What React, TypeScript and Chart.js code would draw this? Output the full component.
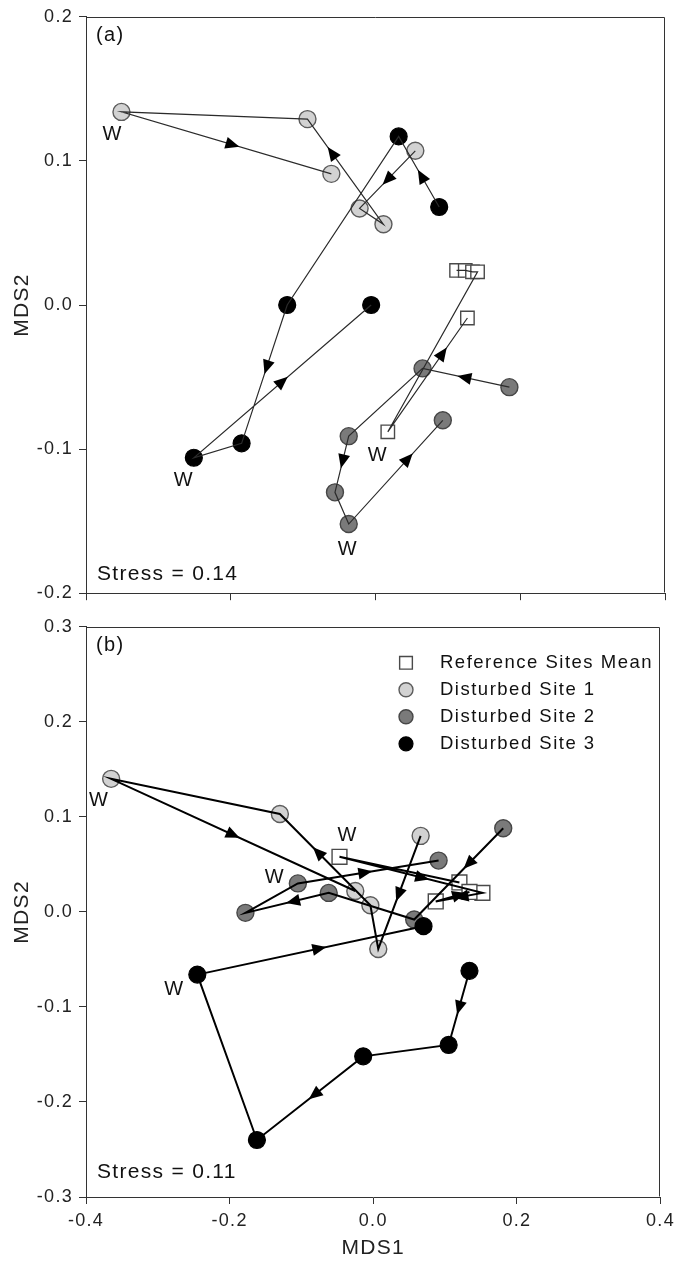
import React, { useEffect, useRef } from 'react';
import { Chart, registerables } from 'chart.js';

Chart.register(...registerables);

const FONT = '"Liberation Sans", Arial, Helvetica, sans-serif';

// Axis tick values
const xTicks = [-0.4, -0.2, 0.0, 0.2, 0.4];
const yTicksA = [-0.2, -0.1, 0.0, 0.1, 0.2];
const yTicksB = [-0.3, -0.2, -0.1, 0.0, 0.1, 0.2, 0.3];

// Series names
const seriesNames = ['Reference Sites Mean', 'Disturbed Site 1', 'Disturbed Site 2', 'Disturbed Site 3'];

// ---- Panel (a) ----
// arrow arrays: fraction along segment i (point i -> i+1) where an arrowhead sits, 0 = none
const refA_mds1 = [0.112, 0.124, 0.134, 0.141, 0.017, 0.127];
const refA_mds2 = [0.024, 0.024, 0.023, 0.023, -0.088, -0.009];
const refA_arrow = [0, 0, 0, 0, 0.69];
const refA_w = 4;

const site1A_mds1 = [0.055, -0.022, 0.011, -0.094, -0.351, -0.061];
const site1A_mds2 = [0.107, 0.067, 0.056, 0.129, 0.134, 0.091];
const site1A_arrow = [0.5, 0, 0.68, 0, 0.53];
const site1A_w = 4;

const site2A_mds1 = [0.185, 0.065, -0.037, -0.056, -0.037, 0.093];
const site2A_mds2 = [-0.057, -0.044, -0.091, -0.13, -0.152, -0.08];
const site2A_arrow = [0.52, 0, 0.45, 0, 0.63];
const site2A_w = 4;

const site3A_mds1 = [0.088, 0.032, -0.122, -0.185, -0.251, -0.006];
const site3A_mds2 = [0.068, 0.117, 0.0, -0.096, -0.106, 0.0];
const site3A_arrow = [0.44, 0, 0.45, 0, 0.5];
const site3A_w = 4;

// ---- Panel (b) ----
const refB_mds1 = [0.12, -0.047, 0.152, 0.087, 0.134];
const refB_mds2 = [0.031, 0.058, 0.02, 0.011, 0.021];
const refB_arrow = [0, 0.58, 0.45, 0.7];
const refB_w = 1;

const site1B_mds1 = [0.066, 0.007, -0.004, -0.13, -0.365, -0.025];
const site1B_mds2 = [0.08, -0.039, 0.007, 0.103, 0.14, 0.022];
const site1B_arrow = [0.52, 0, 0.58, 0, 0.5];
const site1B_w = 4;

const site2B_mds1 = [0.181, 0.057, -0.062, -0.178, -0.105, 0.091];
const site2B_mds2 = [0.088, -0.008, 0.02, -0.001, 0.03, 0.054];
const site2B_arrow = [0.39, 0, 0.43, 0, 0.48];
const site2B_w = 4;

const site3B_mds1 = [0.134, 0.105, -0.014, -0.162, -0.245, 0.07];
const site3B_mds2 = [-0.062, -0.14, -0.152, -0.24, -0.066, -0.015];
const site3B_arrow = [0.5, 0, 0.46, 0, 0.54];
const site3B_w = 4;

type Kind = 'ref' | 's1' | 's2' | 's3';

const STYLES: Record<Kind, any> = {
  ref: { pointStyle: 'rect', bg: '#ffffff', border: '#4a4a4a', bw: 1.4, order: 1, legendR: 9 },
  s1: { pointStyle: 'circle', bg: '#d2d2d2', border: '#5c5c5c', bw: 1.4, order: 4, legendR: 7 },
  s2: { pointStyle: 'circle', bg: '#7a7a7a', border: '#474747', bw: 1.4, order: 3, legendR: 7 },
  s3: { pointStyle: 'circle', bg: '#000000', border: '#000000', bw: 1.2, order: 2, legendR: 7 },
};

type Series = {
  kind: Kind;
  label: string;
  mds1: number[];
  mds2: number[];
  arrows: number[];
  w: number;
  wOff: [number, number];
};

const panelA = {
  yTicks: yTicksA,
  height: 610,
  padTop: 15,
  xAxisHeight: 14,
  showXLabels: false,
  letter: '(a)',
  stress: 'Stress = 0.14',
  stressFromBottom: 19,
  lineColor: '#2b2b2b',
  lineWidth: 1.2,
  circleR: 8.5,
  rectR: 9.5,
  legend: false,
  series: [
    { kind: 'ref', label: seriesNames[0], mds1: refA_mds1, mds2: refA_mds2, arrows: refA_arrow, w: refA_w, wOff: [-10, 24] },
    { kind: 's1', label: seriesNames[1], mds1: site1A_mds1, mds2: site1A_mds2, arrows: site1A_arrow, w: site1A_w, wOff: [-9, 23] },
    { kind: 's2', label: seriesNames[2], mds1: site2A_mds1, mds2: site2A_mds2, arrows: site2A_arrow, w: site2A_w, wOff: [-1, 25] },
    { kind: 's3', label: seriesNames[3], mds1: site3A_mds1, mds2: site3A_mds2, arrows: site3A_arrow, w: site3A_w, wOff: [-10, 23] },
  ] as Series[],
};

const panelB = {
  yTicks: yTicksB,
  height: 660,
  padTop: 7,
  xAxisHeight: 73,
  showXLabels: true,
  letter: '(b)',
  stress: 'Stress = 0.11',
  stressFromBottom: 25,
  lineColor: '#000000',
  lineWidth: 2,
  circleR: 8.5,
  rectR: 10.5,
  legend: true,
  series: [
    { kind: 'ref', label: seriesNames[0], mds1: refB_mds1, mds2: refB_mds2, arrows: refB_arrow, w: refB_w, wOff: [8, -21] },
    { kind: 's1', label: seriesNames[1], mds1: site1B_mds1, mds2: site1B_mds2, arrows: site1B_arrow, w: site1B_w, wOff: [-12, 22] },
    { kind: 's2', label: seriesNames[2], mds1: site2B_mds1, mds2: site2B_mds2, arrows: site2B_arrow, w: site2B_w, wOff: [-23, -6] },
    { kind: 's3', label: seriesNames[3], mds1: site3B_mds1, mds2: site3B_mds2, arrows: site3B_arrow, w: site3B_w, wOff: [-23, 15] },
  ] as Series[],
};

function drawMarker(ctx: CanvasRenderingContext2D, kind: Kind, x: number, y: number, r: number) {
  const st = STYLES[kind];
  ctx.save();
  ctx.fillStyle = st.bg;
  ctx.strokeStyle = st.border;
  ctx.lineWidth = st.bw;
  ctx.beginPath();
  if (st.pointStyle === 'rect') {
    const h = r * Math.SQRT1_2;
    ctx.rect(x - h, y - h, 2 * h, 2 * h);
  } else {
    ctx.arc(x, y, r, 0, Math.PI * 2);
  }
  ctx.fill();
  ctx.stroke();
  ctx.restore();
}

function makeChart(canvas: HTMLCanvasElement, panel: typeof panelA) {
  const datasets: any[] = [];
  panel.series.forEach((s) => {
    const st = STYLES[s.kind];
    const data = s.mds1.map((x, i) => ({ x, y: s.mds2[i] }));
    datasets.push({
      label: s.label,
      data,
      showLine: false,
      pointStyle: st.pointStyle,
      pointRadius: st.pointStyle === 'rect' ? panel.rectR : panel.circleR,
      pointBackgroundColor: st.bg,
      pointBorderColor: st.border,
      pointBorderWidth: st.bw,
      order: st.order,
      kind: s.kind,
      isPoints: true,
    });
    datasets.push({
      label: s.label + ' path',
      data,
      showLine: true,
      pointRadius: 0,
      borderColor: panel.lineColor,
      borderWidth: panel.lineWidth,
      fill: false,
      tension: 0,
      order: 0,
      arrows: s.arrows,
      wIndex: s.w,
      wOff: s.wOff,
      isPath: true,
    });
  });

  const overlay = {
    id: 'overlay',
    beforeDraw(chart: any) {
      (chart.ctx as any).letterSpacing = '1.3px';
    },
    beforeDatasetsDraw(chart: any) {
      const { ctx, chartArea } = chart;
      ctx.save();
      ctx.strokeStyle = '#333333';
      ctx.lineWidth = 1;
      const l = Math.round(chartArea.left) + 0.5;
      const t = Math.round(chartArea.top) + 0.5;
      const r = Math.round(chartArea.right) - 0.5;
      const b = Math.round(chartArea.bottom) - 0.5;
      ctx.beginPath();
      ctx.moveTo(l, t);
      ctx.lineTo(r, t);
      ctx.lineTo(r, b);
      ctx.stroke();
      ctx.restore();
    },
    afterDatasetsDraw(chart: any) {
      const { ctx, chartArea } = chart;
      ctx.save();
      (ctx as any).letterSpacing = '1.3px';
      // arrows and W labels
      chart.data.datasets.forEach((ds: any, i: number) => {
        if (!ds.isPath) return;
        const pts = chart.getDatasetMeta(i).data;
        ds.arrows.forEach((f: number, j: number) => {
          if (!f) return;
          const p0 = pts[j];
          const p1 = pts[j + 1];
          const dx = p1.x - p0.x;
          const dy = p1.y - p0.y;
          const len = Math.hypot(dx, dy) || 1;
          const ux = dx / len;
          const uy = dy / len;
          const cx = p0.x + dx * f;
          const cy = p0.y + dy * f;
          const L = 14;
          const W = 6;
          ctx.beginPath();
          ctx.moveTo(cx + ux * L * 0.5, cy + uy * L * 0.5);
          ctx.lineTo(cx - ux * L * 0.5 - uy * W, cy - uy * L * 0.5 + ux * W);
          ctx.lineTo(cx - ux * L * 0.5 + uy * W, cy - uy * L * 0.5 - ux * W);
          ctx.closePath();
          ctx.fillStyle = '#000000';
          ctx.fill();
        });
        const wp = pts[ds.wIndex];
        ctx.fillStyle = '#111111';
        ctx.font = `20px ${FONT}`;
        ctx.textAlign = 'center';
        ctx.textBaseline = 'middle';
        ctx.fillText('W', wp.x + ds.wOff[0], wp.y + ds.wOff[1]);
      });
      // panel letter and stress
      ctx.fillStyle = '#111111';
      ctx.textAlign = 'left';
      ctx.textBaseline = 'middle';
      ctx.font = `20px ${FONT}`;
      ctx.fillText(panel.letter, chartArea.left + 10, chartArea.top + 19);
      ctx.font = `21px ${FONT}`;
      ctx.fillText(panel.stress, chartArea.left + 11, chartArea.bottom - panel.stressFromBottom);
      // legend
      if (panel.legend) {
        const rowY0 = chartArea.top + 36;
        const rowGap = 27;
        const markX = 406;
        const textX = 440;
        ctx.font = `18.5px ${FONT}`;
        (ctx as any).letterSpacing = '1.5px';
        panel.series.forEach((s, k) => {
          const y = rowY0 + k * rowGap;
          drawMarker(ctx, s.kind, markX, y, STYLES[s.kind].legendR);
          ctx.fillStyle = '#111111';
          ctx.textAlign = 'left';
          ctx.textBaseline = 'middle';
          ctx.fillText(s.label, textX, y);
        });
      }
      ctx.restore();
    },
  };

  const yTicks = panel.yTicks;
  return new Chart(canvas, {
    type: 'scatter',
    data: { datasets },
    options: {
      responsive: false,
      animation: false,
      devicePixelRatio: 1,
      events: [],
      layout: { padding: { top: panel.padTop, right: 14, left: 0, bottom: 0 } },
      plugins: { legend: { display: false }, tooltip: { enabled: false } },
      scales: {
        x: {
          type: 'linear',
          min: xTicks[0],
          max: xTicks[xTicks.length - 1],
          afterBuildTicks: (s: any) => {
            s.ticks = xTicks.map((v) => ({ value: v }));
          },
          afterFit: (s: any) => {
            s.height = panel.xAxisHeight;
          },
          ticks: {
            display: panel.showXLabels,
            color: '#222222',
            font: { family: FONT, size: 18 },
            padding: 6,
            maxRotation: 0,
            callback: (v: any) => Number(v).toFixed(1),
          },
          grid: { drawOnChartArea: false, drawTicks: true, tickLength: 7, color: '#333333', lineWidth: 1 },
          border: { display: true, color: '#333333', width: 1 },
          title: {
            display: panel.showXLabels,
            text: 'MDS1',
            color: '#222222',
            font: { family: FONT, size: 21 },
            padding: { top: 4, bottom: 9 },
          },
        },
        y: {
          type: 'linear',
          min: yTicks[0],
          max: yTicks[yTicks.length - 1],
          afterBuildTicks: (s: any) => {
            s.ticks = yTicks.map((v) => ({ value: v }));
          },
          afterFit: (s: any) => {
            s.width = 86;
          },
          ticks: {
            color: '#222222',
            font: { family: FONT, size: 18 },
            padding: 6,
            callback: (v: any) => Number(v).toFixed(1),
          },
          grid: { drawOnChartArea: false, drawTicks: true, tickLength: 7, color: '#333333', lineWidth: 1 },
          border: { display: true, color: '#333333', width: 1 },
          title: {
            display: true,
            text: 'MDS2',
            color: '#222222',
            font: { family: FONT, size: 21 },
            padding: { top: 10, bottom: 4 },
          },
        },
      },
    } as any,
    plugins: [overlay],
  });
}

export default function App() {
  const refA = useRef<HTMLCanvasElement>(null);
  const refB = useRef<HTMLCanvasElement>(null);
  useEffect(() => {
    const a = makeChart(refA.current as HTMLCanvasElement, panelA);
    const b = makeChart(refB.current as HTMLCanvasElement, panelB as any);
    return () => {
      a.destroy();
      b.destroy();
    };
  }, []);
  return (
    <div style={{ position: 'absolute', left: 0, top: 0, width: 679, height: 1270, background: '#ffffff' }}>
      <canvas
        ref={refA}
        width={679}
        height={610}
        style={{ position: 'absolute', left: 0, top: 0, width: 679, height: 610, display: 'block' }}
      />
      <canvas
        ref={refB}
        width={679}
        height={660}
        style={{ position: 'absolute', left: 0, top: 610, width: 679, height: 660, display: 'block' }}
      />
    </div>
  );
}
